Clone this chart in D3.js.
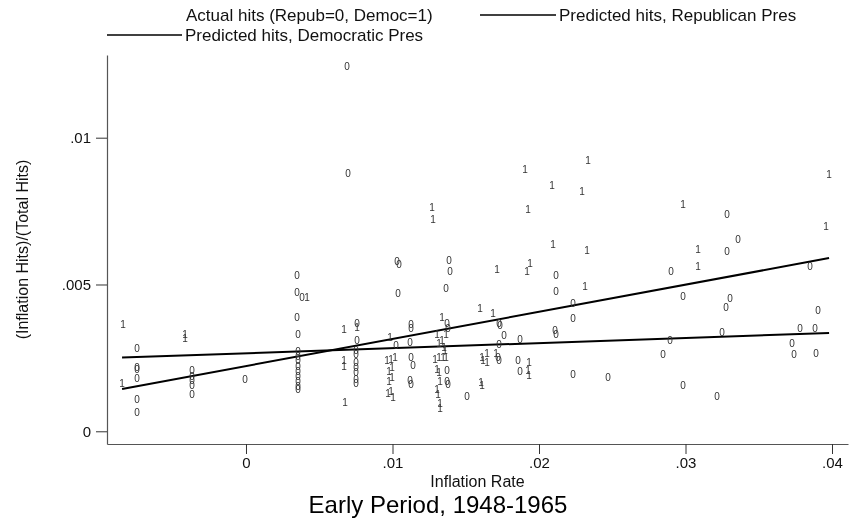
<!DOCTYPE html>
<html>
<head>
<meta charset="utf-8">
<script src="https://cdn.jsdelivr.net/npm/d3@7"></script>
<style>
  body { margin: 0; background: #fff; }
  svg { filter: grayscale(100%); }
  text { font-family: "Liberation Sans", Arial, Helvetica, sans-serif; }
</style>
</head>
<body>
<div id="chart"></div>
<script>
// tick values
const xTicks = [0, 0.01, 0.02, 0.03, 0.04];
const yTicks = [0, 0.005, 0.01];

// actual hits, Republican president (label "0"): [inflation rate, share of hits]
const repHits = [
  [-0.00744, 0.00284], [-0.00744, 0.00219], [-0.00744, 0.00212], [-0.00744, 0.00181],
  [-0.00744, 0.00110], [-0.00744, 0.00066],
  [-0.00369, 0.00209], [-0.00369, 0.00188], [-0.00369, 0.00175], [-0.00369, 0.00158],
  [-0.00369, 0.00124],
  [-0.00007, 0.00178],
  [0.00348, 0.00532], [0.00348, 0.00474], [0.00348, 0.00389], [0.00355, 0.00331],
  [0.00355, 0.00273], [0.00355, 0.00256], [0.00355, 0.00240], [0.00355, 0.00222],
  [0.00355, 0.00205], [0.00355, 0.00188], [0.00355, 0.00171], [0.00355, 0.00154],
  [0.00355, 0.00141],
  [0.00382, 0.00457],
  [0.00689, 0.01244], [0.00696, 0.00880],
  [0.00758, 0.00369], [0.00758, 0.00311], [0.00751, 0.00277], [0.00751, 0.00263],
  [0.00751, 0.00233], [0.00751, 0.00219], [0.00751, 0.00202], [0.00751, 0.00178],
  [0.00751, 0.00164],
  [0.01031, 0.00580], [0.01044, 0.00570], [0.01038, 0.00468], [0.01024, 0.00291],
  [0.01126, 0.00365], [0.01126, 0.00352], [0.01119, 0.00304], [0.01126, 0.00250],
  [0.01140, 0.00226], [0.01119, 0.00175], [0.01126, 0.00161],
  [0.01386, 0.00583], [0.01392, 0.00543], [0.01365, 0.00485],
  [0.01372, 0.00369], [0.01379, 0.00352],
  [0.01372, 0.00209], [0.01372, 0.00171], [0.01379, 0.00161],
  [0.01509, 0.00120],
  [0.01727, 0.00369], [0.01734, 0.00362], [0.01761, 0.00328], [0.01870, 0.00314],
  [0.01727, 0.00297],
  [0.02109, 0.00342], [0.02116, 0.00331],
  [0.02116, 0.00532], [0.02116, 0.00478],
  [0.02232, 0.00437], [0.02232, 0.00386],
  [0.01720, 0.00253], [0.01727, 0.00240],
  [0.01857, 0.00243], [0.01870, 0.00205],
  [0.02232, 0.00195], [0.02471, 0.00185],
  [0.03283, 0.00740], [0.03358, 0.00655], [0.03283, 0.00614], [0.02901, 0.00546],
  [0.02983, 0.00461], [0.03304, 0.00454], [0.03276, 0.00423], [0.03850, 0.00563],
  [0.03904, 0.00413], [0.03782, 0.00352], [0.03884, 0.00352], [0.03249, 0.00338],
  [0.02894, 0.00311], [0.03727, 0.00301], [0.02846, 0.00263], [0.03741, 0.00263],
  [0.03891, 0.00267], [0.02983, 0.00158], [0.03215, 0.00120]
];

// actual hits, Democratic president (label "1")
const demHits = [
  [-0.00840, 0.00365], [-0.00846, 0.00164],
  [-0.00416, 0.00331], [-0.00416, 0.00318],
  [0.00416, 0.00457],
  [0.00669, 0.00348], [0.00758, 0.00355],
  [0.00669, 0.00240], [0.00669, 0.00222], [0.00676, 0.00100],
  [0.00983, 0.00321], [0.00962, 0.00240], [0.00990, 0.00246], [0.01017, 0.00253],
  [0.00976, 0.00205], [0.00997, 0.00216], [0.00976, 0.00171], [0.00997, 0.00185],
  [0.00969, 0.00130], [0.00990, 0.00137], [0.01003, 0.00117],
  [0.01270, 0.00761], [0.01276, 0.00723],
  [0.01338, 0.00389], [0.01304, 0.00331], [0.01365, 0.00331],
  [0.01317, 0.00301], [0.01338, 0.00308], [0.01352, 0.00287], [0.01358, 0.00277],
  [0.01290, 0.00246], [0.01317, 0.00250], [0.01345, 0.00253], [0.01365, 0.00250],
  [0.01304, 0.00212], [0.01317, 0.00202], [0.01324, 0.00171], [0.01304, 0.00144],
  [0.01311, 0.00127], [0.01324, 0.00096], [0.01324, 0.00079],
  [0.01597, 0.00420], [0.01686, 0.00403],
  [0.01713, 0.00553], [0.01939, 0.00573], [0.01918, 0.00543],
  [0.02314, 0.00495],
  [0.01611, 0.00253], [0.01618, 0.00240], [0.01645, 0.00267], [0.01645, 0.00233],
  [0.01706, 0.00267],
  [0.01932, 0.00236], [0.01925, 0.00209], [0.01932, 0.00192],
  [0.01604, 0.00168], [0.01611, 0.00158],
  [0.01904, 0.00893], [0.02334, 0.00924], [0.02089, 0.00839], [0.02294, 0.00818],
  [0.01925, 0.00757], [0.02096, 0.00635], [0.02328, 0.00617],
  [0.02983, 0.00774], [0.03085, 0.00621], [0.03085, 0.00560], [0.03959, 0.00699],
  [0.03980, 0.00876]
];

// fitted lines: [inflation rate, predicted share]
const repFit = [[-0.00846, 0.00251], [0.03980, 0.00335]];
const demFit = [[-0.00846, 0.00144], [0.03980, 0.00590]];

const legendLabels = [
  'Actual hits (Repub=0, Democ=1)',
  'Predicted hits, Republican Pres',
  'Predicted hits, Democratic Pres'
];
const xTitle = 'Inflation Rate';
const yTitle = '(Inflation Hits)/(Total Hits)';
const chartTitle = 'Early Period, 1948-1965';

const painter = {};

painter.option = {
  width: 854,
  height: 524,
  plot: {left: 107, right: 848, top: 55, bottom: 444},
  xDomain: [-0.009488, 0.041092],
  yDomain: [-0.000433, 0.012817]
};

painter.fmt = (d) => d === 0 ? '0' : String(+d.toFixed(4)).replace(/^0\./, '.');

painter.draw = () => {
  const o = painter.option;
  const svg = d3.select('#chart').append('svg')
      .attr('width', o.width)
      .attr('height', o.height);

  const x = d3.scaleLinear().domain(o.xDomain).range([o.plot.left, o.plot.right]);
  const y = d3.scaleLinear().domain(o.yDomain).range([o.plot.bottom, o.plot.top]);

  // axes
  const xAxis = svg.append('g')
      .attr('transform', 'translate(0,' + o.plot.bottom + ')')
      .call(d3.axisBottom(x).tickValues(xTicks).tickFormat(painter.fmt)
          .tickSize(10).tickPadding(3).tickSizeOuter(0));
  const yAxis = svg.append('g')
      .attr('transform', 'translate(' + o.plot.left + ',0)')
      .call(d3.axisLeft(y).tickValues(yTicks).tickFormat(painter.fmt)
          .tickSize(11).tickPadding(5).tickSizeOuter(0));
  [xAxis, yAxis].forEach((g) => {
    g.select('.domain').attr('stroke', '#555').attr('stroke-width', 1.2);
    g.selectAll('.tick line').attr('stroke', '#333').attr('stroke-width', 1);
    g.selectAll('.tick text').attr('fill', '#111').style('font-size', '15px');
  });

  // fitted lines
  const line = d3.line().x((d) => x(d[0])).y((d) => y(d[1]));
  svg.selectAll('path.fit')
      .data([repFit, demFit])
      .enter()
      .append('path')
      .attr('class', 'fit')
      .attr('d', line)
      .attr('fill', 'none')
      .attr('stroke', '#000')
      .attr('stroke-width', 2);

  // point labels
  const pts = repHits.map((d) => ({x: d[0], y: d[1], lab: '0'}))
      .concat(demHits.map((d) => ({x: d[0], y: d[1], lab: '1'})));
  svg.append('g').selectAll('text')
      .data(pts)
      .enter()
      .append('text')
      .attr('x', (d) => x(d.x))
      .attr('y', (d) => y(d.y))
      .attr('dy', '0.36em')
      .attr('text-anchor', 'middle')
      .style('font-size', '10px')
      .attr('fill', '#333')
      .text((d) => d.lab);

  // titles
  svg.append('text')
      .attr('x', (o.plot.left + o.plot.right) / 2)
      .attr('y', 487)
      .attr('text-anchor', 'middle')
      .style('font-size', '16px')
      .attr('fill', '#111')
      .text(xTitle);
  svg.append('text')
      .attr('transform', 'translate(22,' + (o.plot.top + o.plot.bottom) / 2 + ') rotate(-90)')
      .attr('dy', '0.35em')
      .attr('text-anchor', 'middle')
      .style('font-size', '16px')
      .attr('fill', '#111')
      .text(yTitle);
  svg.append('text')
      .attr('x', 438)
      .attr('y', 513)
      .attr('text-anchor', 'middle')
      .style('font-size', '24px')
      .attr('fill', '#000')
      .text(chartTitle);

  // legend
  const legend = svg.append('g').style('font-size', '17px').attr('fill', '#111');
  const items = [
    {tx: 186, ty: 15, key: null, label: legendLabels[0]},
    {tx: 559, ty: 15, key: [480, 556], label: legendLabels[1]},
    {tx: 185, ty: 35, key: [107, 182], label: legendLabels[2]}
  ];
  items.forEach((it) => {
    if (it.key) {
      legend.append('line')
          .attr('x1', it.key[0]).attr('x2', it.key[1])
          .attr('y1', it.ty).attr('y2', it.ty)
          .attr('stroke', '#000').attr('stroke-width', 1.3);
    }
    legend.append('text')
        .attr('x', it.tx)
        .attr('y', it.ty)
        .attr('dy', '0.35em')
        .text(it.label);
  });
};

painter.draw();
</script>
</body>
</html>
